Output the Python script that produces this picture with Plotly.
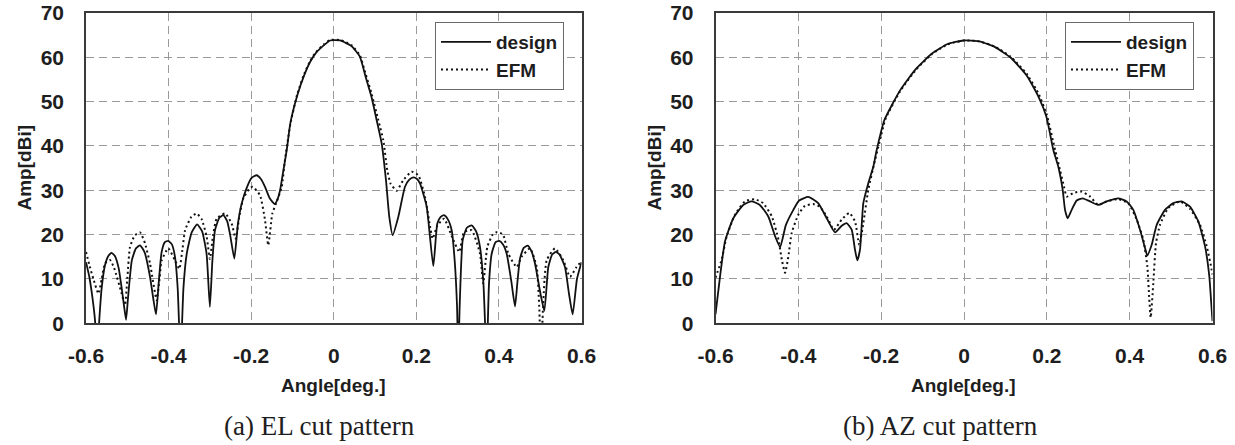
import plotly.graph_objects as go

# ---------------- data ----------------
x_ticks = [-0.6, -0.4, -0.2, 0.0, 0.2, 0.4, 0.6]
x_tick_text = ["-0.6", "-0.4", "-0.2", "0", "0.2", "0.4", "0.6"]
y_ticks = [0, 10, 20, 30, 40, 50, 60, 70]
y_tick_text = ["0", "10", "20", "30", "40", "50", "60", "70"]
series_names = ["design", "EFM"]
panel_captions = ["(a) EL cut pattern", "(b) AZ cut pattern"]
x_title = "Angle[deg.]"
y_title = "Amp[dBi]"

el_design_x = [-0.600, -0.592, -0.584, -0.578, -0.573, -0.568, -0.562, -0.554, -0.546, -0.538, -0.530, -0.521,
               -0.514, -0.508, -0.503, -0.498, -0.489, -0.479, -0.469, -0.458, -0.445, -0.437, -0.4305, -0.424,
               -0.417, -0.409, -0.401, -0.392, -0.3845, -0.378, -0.371, -0.364, -0.356, -0.344, -0.331, -0.319,
               -0.308, -0.300, -0.294, -0.2876, -0.277, -0.2675, -0.258, -0.251, -0.2408, -0.232, -0.223, -0.211,
               -0.199, -0.187, -0.176, -0.1665, -0.155, -0.143, -0.136, -0.130, -0.122, -0.114, -0.105, -0.088,
               -0.071, -0.057, -0.043, -0.023, -0.009, 0.015, 0.030, 0.0435, 0.063, 0.077, 0.091, 0.104,
               0.116, 0.1265, 0.1345, 0.1427, 0.1563, 0.1725, 0.183, 0.193, 0.201, 0.209, 0.2251, 0.2411,
               0.2508, 0.259, 0.267, 0.276, 0.2856, 0.293, 0.2985, 0.3015, 0.305, 0.3122, 0.322, 0.334,
               0.345, 0.3542, 0.3625, 0.3703, 0.376, 0.3825, 0.392, 0.401, 0.410, 0.4188, 0.430, 0.439,
               0.445, 0.451, 0.460, 0.4697, 0.479, 0.4874, 0.500, 0.510, 0.5196, 0.529, 0.538, 0.547,
               0.560, 0.570, 0.5786, 0.589, 0.600]
el_design_y = [13.8, 10.5, 5.5, 0.5, -8.0, 0.5, 8.0, 13.1, 15.2, 15.9, 15.2, 12.5,
               8.2, 4.0, 0.8, 6.0, 14.2, 16.9, 17.6, 16.0, 10.5, 5.5, 2.0, 9.0,
               16.0, 18.3, 18.6, 17.8, 15.0, 8.0, -8.0, 8.0, 15.7, 20.5, 22.3, 20.8,
               15.7, 3.7, 14.0, 21.0, 23.8, 24.4, 23.0, 20.0, 14.6, 22.5, 27.0, 30.5,
               32.8, 33.4, 32.5, 30.8, 28.2, 26.9, 28.0, 30.0, 34.5, 39.0, 45.2, 51.5,
               56.1, 59.0, 61.0, 62.8, 63.8, 63.8, 63.2, 62.5, 60.2, 55.7, 51.2, 45.8,
               40.6, 32.3, 24.0, 19.9, 24.0, 30.8, 32.4, 32.9, 32.6, 31.5, 26.3, 12.9,
               22.5, 24.0, 24.4, 23.5, 21.0, 14.0, 4.0, -8.0, 4.0, 18.7, 21.5, 22.1,
               20.7, 17.2, 9.0, -8.0, 9.0, 15.7, 18.3, 18.6, 17.8, 15.7, 9.5, 3.8,
               9.5, 14.6, 17.0, 17.5, 16.2, 13.5, 7.0, 2.8, 12.7, 15.5, 16.1, 15.5,
               12.7, 6.5, 2.0, 10.0, 13.8]

el_efm_x = [-0.600, -0.590, -0.582, -0.570, -0.562, -0.554, -0.542, -0.532, -0.5136, -0.5056, -0.500, -0.4934,
            -0.482, -0.469, -0.457, -0.445, -0.4288, -0.422, -0.4167, -0.4007, -0.3845, -0.374, -0.366, -0.360,
            -0.345, -0.332, -0.320, -0.3077, -0.300, -0.292, -0.2836, -0.2634, -0.2473, -0.2376, -0.228, -0.219,
            -0.205, -0.1963, -0.1786, -0.1665, -0.1585, -0.1487, -0.1382, -0.126, -0.118, -0.110, -0.105, -0.088,
            -0.071, -0.057, -0.043, -0.023, -0.009, 0.015, 0.030, 0.0435, 0.063, 0.077, 0.091, 0.108,
            0.120, 0.1297, 0.1378, 0.1523, 0.1684, 0.1886, 0.2048, 0.221, 0.2348, 0.2396, 0.2508, 0.267,
            0.2856, 0.304, 0.315, 0.334, 0.3542, 0.362, 0.3719, 0.385, 0.396, 0.410, 0.4228, 0.443,
            0.455, 0.4753, 0.4914, 0.4975, 0.502, 0.507, 0.5157, 0.5359, 0.556, 0.5722, 0.588, 0.600]
el_efm_y = [16.1, 12.5, 10.0, 6.7, 10.0, 13.5, 14.3, 12.5, 6.7, 4.1, 10.0, 17.2,
            19.8, 20.5, 18.0, 13.5, 5.2, 10.0, 14.2, 16.9, 14.2, 12.3, 17.0, 21.0,
            24.0, 24.8, 23.5, 19.5, 14.5, 20.0, 23.6, 24.8, 22.5, 19.1, 24.5, 28.2,
            30.3, 30.8, 28.9, 23.3, 17.6, 24.8, 27.4, 30.8, 37.0, 42.0, 45.0, 51.8,
            56.4, 59.2, 61.2, 63.0, 63.9, 63.9, 63.4, 62.7, 60.5, 56.3, 52.0, 45.8,
            41.3, 34.5, 31.5, 29.9, 32.3, 34.2, 33.4, 28.5, 21.0, 19.1, 22.0, 23.6,
            19.7, 16.1, 20.5, 21.0, 15.7, 9.0, 17.2, 20.0, 20.6, 20.0, 15.7, 12.7,
            15.0, 16.9, 12.7, 4.0, -8.0, 4.0, 14.2, 16.9, 14.2, 10.5, 12.7, 14.0]

az_design_x = [-0.600, -0.589, -0.577, -0.557, -0.533, -0.513, -0.493, -0.4725, -0.456, -0.444, -0.430, -0.412,
               -0.398, -0.376, -0.352, -0.3315, -0.3115, -0.2953, -0.2833, -0.2711, -0.2632, -0.2576, -0.2511, -0.2431,
               -0.2311, -0.219, -0.2108, -0.1924, -0.154, -0.116, -0.0778, -0.0396, -0.0014, 0.0367, 0.075, 0.113,
               0.1513, 0.180, 0.199, 0.2157, 0.2277, 0.2383, 0.2439, 0.2504, 0.260, 0.2721, 0.2866, 0.3043,
               0.3243, 0.3445, 0.3726, 0.3928, 0.4088, 0.425, 0.4371, 0.4426, 0.4532, 0.4653, 0.4853, 0.5054,
               0.5256, 0.5457, 0.5657, 0.5819, 0.5923, 0.598, 0.600]
az_design_y = [2.0, 10.6, 18.5, 23.7, 26.7, 27.5, 26.7, 24.1, 19.6, 17.2, 22.2, 25.6,
               27.7, 28.5, 27.1, 23.7, 20.5, 22.0, 22.6, 21.1, 16.6, 14.2, 16.6, 27.1,
               31.6, 35.3, 39.1, 45.8, 52.6, 57.4, 60.8, 63.0, 63.8, 63.6, 62.3, 59.9,
               55.9, 51.1, 46.6, 39.1, 35.3, 30.1, 25.6, 23.7, 25.6, 27.7, 28.2, 27.5,
               26.7, 27.5, 28.2, 27.5, 25.6, 21.1, 17.0, 15.3, 17.7, 22.2, 25.6, 27.1,
               27.5, 26.3, 23.0, 17.4, 10.6, 3.1, 0.5]

az_efm_x = [-0.600, -0.585, -0.573, -0.553, -0.529, -0.505, -0.485, -0.464, -0.448, -0.440, -0.432, -0.424,
            -0.416, -0.400, -0.384, -0.364, -0.348, -0.3315, -0.314, -0.2953, -0.277, -0.2632, -0.2528, -0.2431,
            -0.2311, -0.2149, -0.205, -0.190, -0.154, -0.116, -0.078, -0.040, 0.000, 0.037, 0.075, 0.113,
            0.151, 0.180, 0.200, 0.220, 0.2318, 0.2415, 0.248, 0.2639, 0.2842, 0.3043, 0.3243, 0.3445,
            0.3726, 0.3967, 0.417, 0.4329, 0.4426, 0.4474, 0.4508, 0.4571, 0.4636, 0.4733, 0.4933, 0.5215,
            0.5457, 0.5698, 0.586, 0.598, 0.600]
az_efm_y = [10.3, 14.4, 19.6, 24.5, 27.5, 28.0, 27.1, 24.1, 18.9, 14.4, 11.4, 15.1,
            20.4, 24.5, 26.5, 26.9, 26.3, 24.1, 21.1, 23.4, 24.9, 23.0, 17.7, 22.6,
            30.1, 36.8, 40.5, 46.0, 52.4, 57.2, 60.7, 62.9, 63.8, 63.6, 62.4, 60.1,
            56.3, 51.8, 47.0, 39.1, 34.6, 30.8, 28.6, 29.4, 29.7, 28.6, 26.7, 27.5,
            28.0, 27.1, 23.4, 18.9, 12.9, 5.4, 1.3, 9.1, 18.1, 22.2, 26.0, 27.5,
            25.8, 22.2, 17.4, 12.1, 11.0]

# ---------------- figure ----------------
W, H = 1235, 445
SANS = "Liberation Sans, Arial, Helvetica, sans-serif"
SERIF = "Liberation Serif, Times New Roman, serif"
INK = "#1e1e1e"

fig = go.Figure()

design_line = dict(color="#111111", width=1.8)
efm_line = dict(color="#111111", width=2.0, dash="2px,3px")

panels = [
    (el_design_x, el_design_y, el_efm_x, el_efm_y, "x", "y", "legend"),
    (az_design_x, az_design_y, az_efm_x, az_efm_y, "x2", "y2", "legend2"),
]
for dx, dy, ex, ey, xa, ya, lg in panels:
    fig.add_trace(go.Scatter(x=dx, y=dy, mode="lines", name=series_names[0], line=design_line,
                             line_shape="spline", line_smoothing=0.5,
                             xaxis=xa, yaxis=ya, legend=lg, hoverinfo="skip"))
    fig.add_trace(go.Scatter(x=ex, y=ey, mode="lines", name=series_names[1], line=efm_line,
                             line_shape="spline", line_smoothing=0.5,
                             xaxis=xa, yaxis=ya, legend=lg, hoverinfo="skip"))

tick_font = dict(family=SANS, size=21, color=INK, weight="bold")

def xaxis_cfg(domain, anchor):
    return dict(domain=domain, anchor=anchor, range=[-0.6, 0.6], tickmode="array",
                tickvals=x_ticks, ticktext=x_tick_text, tickfont=tick_font, ticks="",
                ticklabelstandoff=13, showgrid=True, gridcolor="#9a9a9a", gridwidth=1.2,
                griddash="8px,5px", zeroline=False, showline=True, linecolor="#3a3a3a",
                linewidth=1.6, mirror=True, fixedrange=True)

def yaxis_cfg(domain, anchor):
    return dict(domain=domain, anchor=anchor, range=[0, 70], tickmode="array",
                tickvals=y_ticks, ticktext=y_tick_text, tickfont=tick_font, ticks="",
                ticklabelstandoff=16, showgrid=True, gridcolor="#9a9a9a", gridwidth=1.2,
                griddash="8px,5px", zeroline=False, showline=True, linecolor="#3a3a3a",
                linewidth=1.6, mirror=True, fixedrange=True)

ydom = [1 - 323.3 / H, 1 - 13.0 / H]
legend_common = dict(bgcolor="white", bordercolor="#6a6a6a", borderwidth=1,
                     font=dict(family=SANS, size=19, color=INK, weight="bold"),
                     xanchor="right", yanchor="top", itemwidth=50, tracegroupgap=0)

fig.update_layout(
    width=W, height=H,
    margin=dict(l=0, r=0, t=0, b=0, autoexpand=False),
    paper_bgcolor="white", plot_bgcolor="white",
    xaxis=xaxis_cfg([86 / W, 581.5 / W], "y"),
    yaxis=yaxis_cfg(ydom, "x"),
    xaxis2=xaxis_cfg([715.5 / W, 1212.5 / W], "y2"),
    yaxis2=yaxis_cfg(ydom, "x2"),
    legend=dict(x=564 / W, y=1 - 22 / H, **legend_common),
    legend2=dict(x=1194 / W, y=1 - 22 / H, **legend_common),
    showlegend=True,
)

title_font = dict(family=SANS, size=19, color=INK, weight="bold")
cap_font = dict(family=SERIF, size=27, color=INK)
annotations = []
for cx_axis, cy_title_x in [(333.75, 23.5), (964.0, 653.5)]:
    annotations.append(dict(text=x_title, x=cx_axis / W, y=1 - 385 / H, xref="paper", yref="paper",
                            showarrow=False, font=title_font, xanchor="center", yanchor="middle"))
    annotations.append(dict(text=y_title, x=cy_title_x / W, y=1 - 168 / H, xref="paper", yref="paper",
                            showarrow=False, font=title_font, textangle=-90,
                            xanchor="center", yanchor="middle"))
for cap_text, cap_x in zip(panel_captions, [319, 940]):
    annotations.append(dict(text=cap_text, x=cap_x / W, y=1 - 426 / H, xref="paper", yref="paper",
                            showarrow=False, font=cap_font, xanchor="center", yanchor="middle"))
fig.update_layout(annotations=annotations)

fig.write_html("out.html", config={"displayModeBar": False},
               post_script="document.body.style.margin='0px';document.body.style.overflow='hidden';")
